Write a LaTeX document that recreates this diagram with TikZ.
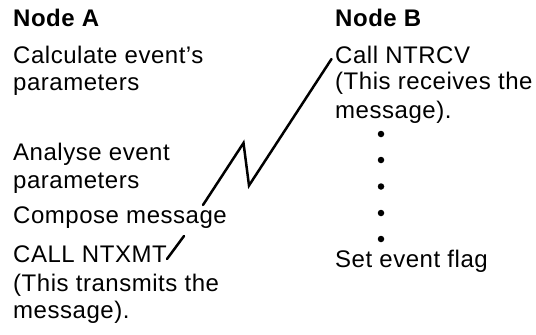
\documentclass[tikz,border=0pt]{standalone}
\usepackage{fontspec}
\setmainfont{Liberation Sans}[LetterSpace=2.2]
\begin{document}
\begin{tikzpicture}[x=1pt,y=-1pt,
  txt/.style={anchor=base west, inner sep=0pt, font=\fontsize{24}{28}\selectfont},
  hd/.style={txt, font=\fontsize{24}{28}\selectfont\bfseries},
  bolt/.style={line width=2.5pt, line cap=round, line join=miter},
  dotb/.style={circle, fill, inner sep=0pt, minimum size=6.5pt}]
\useasboundingbox (0,0) rectangle (536,335);
% Node A column
\node[hd]  (na)  at (13,26.5)  {Node A};
\node[txt] (a1)  at (13,63.5)  {Calculate event's};
\node[txt] (a2)  at (13,90.5)  {parameters};
\node[txt] (a3)  at (13,160)   {Analyse event};
\node[txt] (a4)  at (13,188)   {parameters};
\node[txt] (a5)  at (13,223)   {Compose message};
\node[txt] (a6)  at (13,262)   {CALL NTXMT};
\node[txt] (a7)  at (13,291.5) {(This transmits the};
\node[txt] (a8)  at (13,318.5) {message).};
% Node B column
\node[hd]  (nb)  at (335,26.5) {Node B};
\node[txt] (b1)  at (335,63)   {Call NTRCV};
\node[txt] (b2)  at (335,89)   {(This receives the};
\node[txt] (b3)  at (335,118)  {message).};
\node[txt] (b4)  at (335,267)  {Set event flag};
% dots
\node[dotb] (d1) at (381,134) {};
\node[dotb] (d2) at (381,160) {};
\node[dotb] (d3) at (381,186.5) {};
\node[dotb] (d4) at (381,213) {};
\node[dotb] (d5) at (381,239) {};
% lightning connector
\coordinate (ls) at (203,205);
\coordinate (lp) at (243.5,143);
\coordinate (lv) at (249,185.5);
\coordinate (le) at (331.5,59);
\draw[bolt] (ls) -- (lp) -- (lv) -- (le);
% tick
\coordinate (t1) at (167,259);
\coordinate (t2) at (184,236);
\draw[bolt] (t1) -- (t2);
\end{tikzpicture}
\end{document}
